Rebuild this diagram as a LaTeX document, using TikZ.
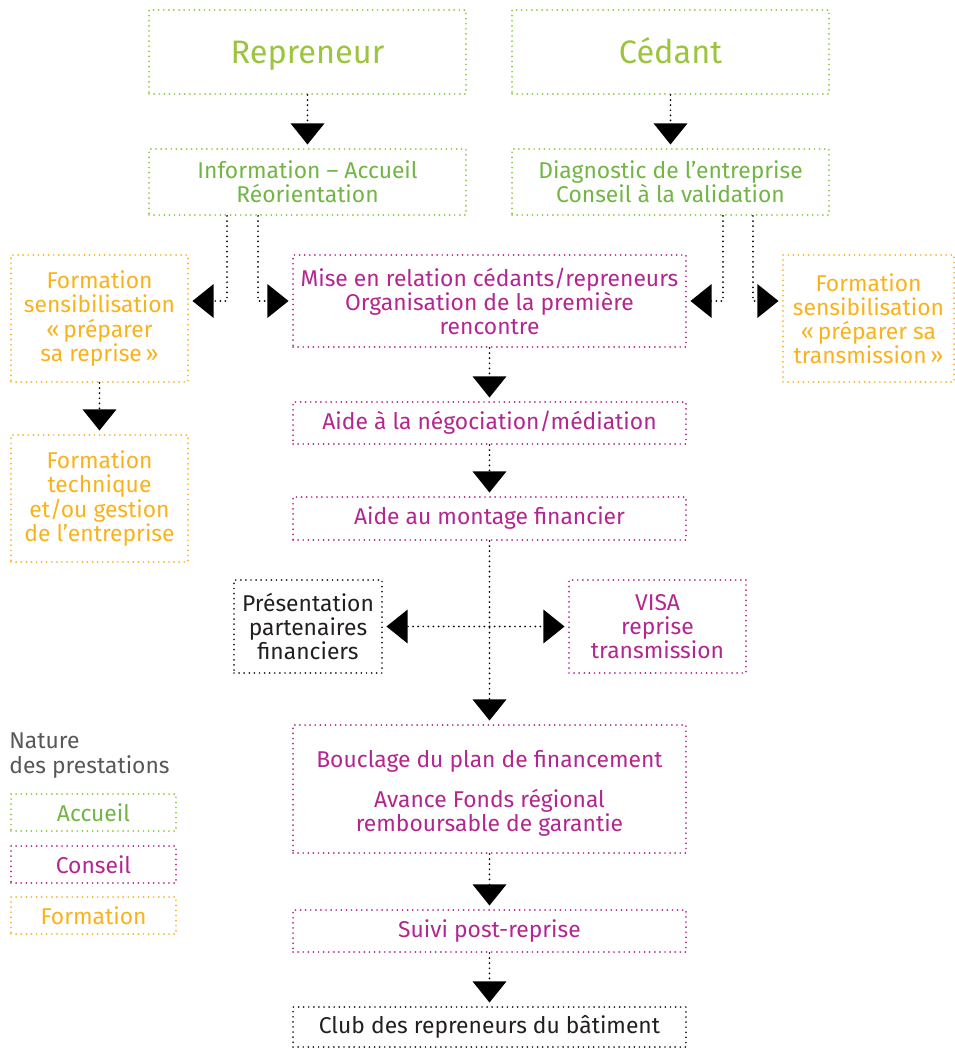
\documentclass[tikz,border=0pt]{standalone}
\usepackage{fontspec}
\setmainfont{Fira Sans}
\usetikzlibrary{arrows.meta,positioning}
\definecolor{vertbord}{HTML}{8DC63F}
\definecolor{vert}{HTML}{72B545}
\definecolor{verttitre}{HTML}{9CC43C}
\definecolor{magenta}{HTML}{B3268F}
\definecolor{orangef}{HTML}{F9B21B}
\definecolor{noir}{HTML}{231F20}
\definecolor{gris}{HTML}{58585A}
\tikzset{
  box/.style={draw, line width=1.1pt, dash pattern=on 0pt off 2.9pt, line cap=round,
    align=center, inner sep=1pt, font=\fontsize{13}{13.7}\selectfont},
  accueil/.style={box, draw=vertbord, text=vert},
  conseil/.style={box, draw=magenta, text=magenta},
  formation/.style={box, draw=orangef, text=orangef},
  neutre/.style={box, draw=noir, text=noir},
  titre/.style={accueil, text=verttitre, minimum width=6.34cm, minimum height=1.68cm,
    text height=14pt, text depth=1pt, font=\fontsize{18.5}{20}\selectfont},
  fleche/.style={draw=black, line width=1.1pt, dash pattern=on 0pt off 2.9pt, line cap=round,
    shorten >=2pt, -{Triangle[width=19pt,length=12pt]}}
}
\begin{document}
\begin{tikzpicture}[x=0.02cm, y=-0.02cm]
\useasboundingbox (0,0) rectangle (955,1048);

% acteurs
\node[titre] (repreneur) at (307.5,52) {Repreneur};
\node[titre] (cedant) at (670.5,52) {Cédant};

% accueil
\node[accueil, minimum width=6.34cm, minimum height=1.32cm] (info) at (307.5,182)
  {Information – Accueil\\Réorientation};
\node[accueil, minimum width=6.34cm, minimum height=1.32cm] (diag) at (670.5,182)
  {Diagnostic de l'entreprise\\Conseil à la validation};

% formations
\node[formation, minimum width=3.54cm, minimum height=2.54cm] (formA) at (99.5,318.5)
  {Formation\\sensibilisation\\«\,préparer\\sa reprise\,»};
\node[formation, minimum width=3.42cm, minimum height=2.54cm] (formB) at (868.5,318.5)
  {Formation\\sensibilisation\\«\,préparer sa\\transmission\,»};
\node[formation, minimum width=3.54cm, minimum height=2.54cm] (formTech) at (99.5,498.5)
  {Formation\\technique\\et/ou gestion\\de l'entreprise};

% conseil
\node[conseil, minimum width=7.86cm, minimum height=1.84cm] (mise) at (489.5,301)
  {Mise en relation cédants/repreneurs\\Organisation de la première\\rencontre};
\node[conseil, minimum width=7.86cm, minimum height=0.84cm] (nego) at (489.5,423)
  {Aide à la négociation/médiation};
\node[conseil, minimum width=7.86cm, minimum height=0.86cm] (montage) at (489.5,518.5)
  {Aide au montage financier};
\node[neutre, minimum width=2.96cm, minimum height=1.86cm] (pres) at (308,626.5)
  {Présentation\\partenaires\\financiers};
\node[conseil, minimum width=3.54cm, minimum height=1.86cm] (visa) at (657.5,626.5)
  {VISA\\reprise\\transmission};
\node[conseil, minimum width=7.86cm, minimum height=2.56cm] (bouclage) at (489.5,789)
  {\rule{0pt}{0.5cm}Bouclage du plan de financement\\[0.32cm]Avance Fonds régional\\remboursable de garantie};
\node[conseil, minimum width=7.86cm, minimum height=0.84cm] (suivi) at (489.5,931)
  {Suivi post-reprise};
\node[neutre, minimum width=7.86cm, minimum height=0.8cm] (club) at (489.5,1027)
  {Club des repreneurs du bâtiment};

% legende
\node[anchor=north west, inner sep=0pt, align=left, text=gris,
  font=\fontsize{13}{14.5}\selectfont] (legende) at (9,732) {Nature\\des prestations};
\node[accueil, minimum width=3.3cm, minimum height=0.74cm] (legAccueil) at (93.5,812.5) {Accueil};
\node[conseil, minimum width=3.3cm, minimum height=0.74cm] (legConseil) at (93.5,864.5) {Conseil};
\node[formation, minimum width=3.3cm, minimum height=0.74cm] (legFormation) at (93.5,915.5) {Formation};

% fleches
\draw[fleche] (repreneur) -- (info);
\draw[fleche] (cedant) -- (diag);
\draw[fleche] ([xshift=-1.61cm]info.south) |- (formA.east |- mise.west);
\draw[fleche] ([xshift=-0.99cm]info.south) |- (mise.west);
\draw[fleche] ([xshift=1.05cm]diag.south) |- (mise.east);
\draw[fleche] ([xshift=1.65cm]diag.south) |- (formB.west |- mise.east);
\draw[fleche] (formA) -- (formTech);
\draw[fleche] (mise) -- (nego);
\draw[fleche] (nego) -- (montage);
\draw[fleche] (montage) -- (bouclage);
\coordinate (carref) at (montage.south |- pres.east);
\draw[fleche] (carref) -- (pres);
\draw[fleche] (carref) -- (visa);
\draw[fleche] (bouclage) -- (suivi);
\draw[fleche] (suivi) -- (club);
\end{tikzpicture}
\end{document}
